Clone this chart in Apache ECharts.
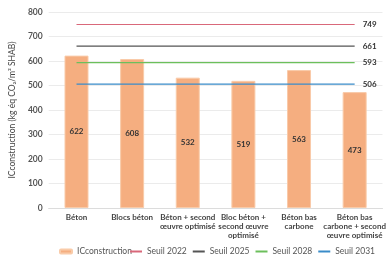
<!DOCTYPE html>
<html>
<head>
<meta charset="utf-8">
<script src="https://cdn.jsdelivr.net/npm/echarts@6/dist/echarts.min.js"></script>
<style>
  html, body { margin: 0; padding: 0; background: #fff; }
  #chart { width: 388px; height: 255px; }
</style>
</head>
<body>
<div id="chart"></div>
<script>
// categories (x axis)
var categories = ['Béton', 'Blocs béton', 'Béton + second\nœuvre optimisé', 'Bloc béton +\nsecond œuvre\noptimisé', 'Béton bas\ncarbone', 'Béton bas\ncarbone + second\nœuvre optimisé'];
// ICconstruction values
var icConstruction = [622, 608, 532, 519, 563, 473];
// seuils
var seuil2022 = [749, 749, 749, 749, 749, 749];
var seuil2025 = [661, 661, 661, 661, 661, 661];
var seuil2028 = [593, 593, 593, 593, 593, 593];
var seuil2031 = [506, 506, 506, 506, 506, 506];
var yTicks = [0, 100, 200, 300, 400, 500, 600, 700, 800];

var font = 'Lato';

function seuil(name, data, color) {
    return {
        name: name,
        type: 'line',
        data: data,
        symbol: 'none',
        legendIcon: 'rect',
        lineStyle: { color: color, width: 1.2 },
        itemStyle: { color: color },
        endLabel: {
            show: true,
            formatter: '{c}',
            fontSize: 8,
            fontWeight: 'bold',
            fontFamily: font,
            color: '#333',
            distance: 8
        },
        z: 3
    };
}

var chart = echarts.init(document.getElementById('chart'));
var option = {
    animation: false,
    textStyle: { fontFamily: font },
    grid: { left: 41, right: 2, top: 12, bottom: 47 },
    legend: [
        {
            top: 242,
            left: 54,
            width: 80,
            itemWidth: 12,
            itemHeight: 4,
            textStyle: { fontSize: 8.5, color: '#555', fontFamily: font },
            data: ['ICconstruction']
        },
        {
            top: 242,
            left: 124,
            width: 262,
            itemWidth: 12,
            itemHeight: 1.5,
            itemGap: 5,
            textStyle: { fontSize: 8.5, color: '#555', fontFamily: font },
            data: ['Seuil 2022', 'Seuil 2025', 'Seuil 2028', 'Seuil 2031']
        }
    ],
    xAxis: {
        type: 'category',
        data: categories,
        axisTick: { show: false },
        axisLine: { lineStyle: { color: '#dcdcdc' } },
        axisLabel: {
            interval: 0,
            fontSize: 8,
            fontWeight: 'bold',
            color: '#444',
            lineHeight: 9,
            margin: 5,
            fontFamily: font
        }
    },
    yAxis: {
        type: 'value',
        min: yTicks[0],
        max: yTicks[yTicks.length - 1],
        interval: 100,
        name: 'ICconstruction (kg éq CO₂/m² SHAB)',
        nameLocation: 'middle',
        nameGap: 26,
        nameTextStyle: { fontSize: 8.5, color: '#444', fontFamily: font },
        axisLabel: { fontSize: 8.5, fontWeight: 'bold', color: '#555', margin: 6 },
        splitLine: { lineStyle: { color: '#ebebeb' } }
    },
    series: [
        {
            name: 'ICconstruction',
            type: 'bar',
            data: icConstruction,
            barWidth: 24,
            itemStyle: {
                color: '#F5AE80',
                borderColor: '#F9CBA9',
                borderWidth: 1
            },
            label: {
                show: true,
                position: 'inside',
                fontSize: 8,
                fontWeight: 'bold',
                color: '#333',
                fontFamily: font
            },
            z: 2
        },
        seuil('Seuil 2022', seuil2022, '#D9687A'),
        seuil('Seuil 2025', seuil2025, '#555555'),
        seuil('Seuil 2028', seuil2028, '#6CBF5C'),
        seuil('Seuil 2031', seuil2031, '#3A8CC9')
    ]
};
chart.setOption(option);
</script>
</body>
</html>
